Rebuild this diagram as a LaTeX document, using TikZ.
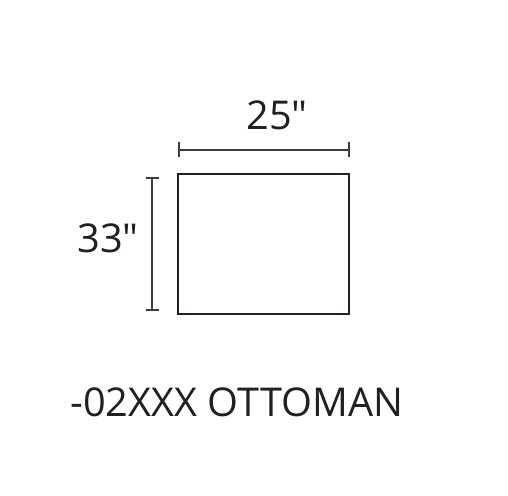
\documentclass[tikz,border=0pt]{standalone}
\usepackage{fontspec}
\setmainfont{Open Sans}
\usepackage{tikz}
\usetikzlibrary{calc}
\definecolor{ink}{HTML}{231F20}
\definecolor{dimgray}{HTML}{3C3C3C}
\tikzset{
  label/.style={text=ink,font=\fontsize{22.6}{26}\selectfont,inner sep=0pt},
  dimline/.style={dimgray,line width=0.6pt},
  outline/.style={ink,line width=1.6pt}
}

\begin{document}
\begin{tikzpicture}[x=0.02cm,y=-0.02cm]
\useasboundingbox (0,0) rectangle (508,496);

% ottoman outline
\draw [outline] (178,174) rectangle (349,314);

% width dimension
\coordinate (wleft) at (179,150);
\coordinate (wright) at (349,150);
\draw [dimline] (wleft) -- (wright);
\draw [dimline] ($(wleft)+(0,-8)$) -- ($(wleft)+(0,7)$);
\draw [dimline] ($(wright)+(0,-8)$) -- ($(wright)+(0,7)$);
\node[label,anchor=base] (width) at (277,130) {25\textquotedbl};

% depth dimension
\coordinate (dtop) at (152,178);
\coordinate (dbottom) at (152,310);
\draw [dimline] (dtop) -- (dbottom);
\draw [dimline] ($(dtop)+(-6,0)$) -- ($(dtop)+(7,0)$);
\draw [dimline] ($(dbottom)+(-6,0)$) -- ($(dbottom)+(7,0)$);
\node[label,anchor=base] (depth) at (108,253) {33\textquotedbl};

% caption
\node[label,anchor=base west] (caption) at (70,417) {-02XXX OTTOMAN};
\end{tikzpicture}
\end{document}
